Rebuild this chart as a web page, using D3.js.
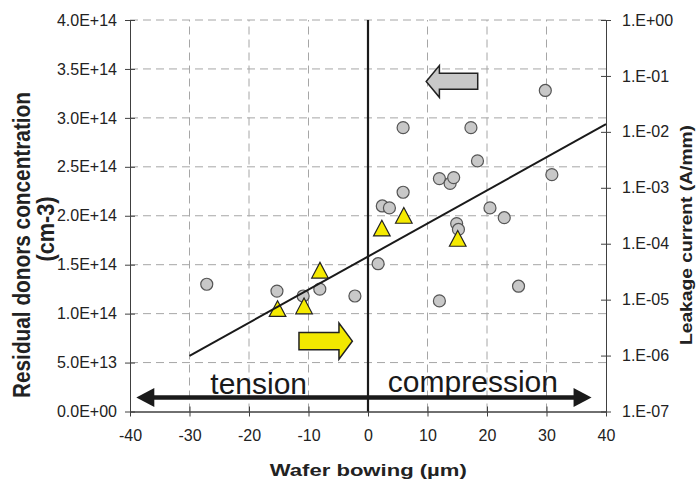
<!DOCTYPE html>
<html><head><meta charset="utf-8">
<script src="https://cdn.jsdelivr.net/npm/d3@7"></script>
<style>body{margin:0;background:#fff}svg{display:block;font-family:"Liberation Sans",Arial,sans-serif}</style>
</head><body>
<svg id="c" width="696" height="488"></svg>
<script>
// ---- data ----
const circleBowing = [-27.1,-15.3,-10.9,-8.1,-2.2,1.7,5.9,5.9,2.4,3.6,12.0,13.8,14.4,17.3,18.4,29.8,30.9,20.5,22.9,14.9,15.2,12.0,25.3];
const circleDonors = [1.30,1.23,1.18,1.25,1.18,1.51,2.90,2.24,2.10,2.08,2.38,2.33,2.39,2.90,2.56,3.28,2.42,2.08,1.98,1.92,1.86,1.13,1.28]; // x1E14
const triBowing = [-15.2,-10.75,-8.07,2.33,6.02,15.08];
const triDonors = [1.05,1.077,1.442,1.873,2.002,1.767]; // x1E14
const fitBowing = [-30, 40];
const fitDonors = [0.569, 2.935]; // x1E14
const xTicks = [-40,-30,-20,-10,0,10,20,30,40];
const yTicks = [0,0.5,1.0,1.5,2.0,2.5,3.0,3.5,4.0]; // x1E14
const yTickLabels = ["0.0E+00","5.0E+13","1.0E+14","1.5E+14","2.0E+14","2.5E+14","3.0E+14","3.5E+14","4.0E+14"];
const rTicks = [1e-7,1e-6,1e-5,1e-4,1e-3,1e-2,1e-1,1];
const rTickLabels = ["1.E-07","1.E-06","1.E-05","1.E-04","1.E-03","1.E-02","1.E-01","1.E+00"];

const svg = d3.select("#c");
const x = d3.scaleLinear().domain([-40,40]).range([130,606]);
const y = d3.scaleLinear().domain([0,4]).range([411.5,20]);
const yR = d3.scaleLog().domain([1e-7,1]).range([411.5,20]);

// grid
const grid = svg.append("g").attr("stroke","#a6a6a6").attr("stroke-width",1).attr("stroke-dasharray","8,5");
grid.selectAll("line.h").data(yTicks.filter(d=>d>0)).join("line")
  .attr("x1",x(-40)).attr("x2",x(40)).attr("y1",d=>y(d)).attr("y2",d=>y(d));
grid.selectAll("line.v").data(xTicks.filter(d=>d>-40&&d<40)).join("line")
  .attr("y1",y(0)).attr("y2",y(4)).attr("x1",d=>x(d)).attr("x2",d=>x(d));

function styleAxis(g){
  g.select(".domain").attr("stroke","#404040");
  g.selectAll(".tick line").attr("stroke","#404040");
  g.selectAll("text").attr("fill","#222").style("font-size","16px").style("font-family","'Liberation Sans',Arial,sans-serif");
}
// left axis
const gl = svg.append("g").attr("transform",`translate(${x(-40)},0)`)
  .call(d3.axisLeft(y).tickValues(yTicks).tickFormat((d,i)=>yTickLabels[i]).tickSize(5).tickSizeOuter(0).tickPadding(8));
styleAxis(gl);
svg.append("g").attr("transform",`translate(${x(-40)},0)`)
  .call(d3.axisLeft(y).tickValues(yTicks).tickFormat("").tickSize(-5).tickSizeOuter(0)).call(styleAxis);
// bottom axis
const gb = svg.append("g").attr("transform",`translate(0,${y(0)})`)
  .call(d3.axisBottom(x).tickValues(xTicks).tickFormat(d=>d).tickSize(5).tickSizeOuter(0).tickPadding(13));
styleAxis(gb);
svg.append("g").attr("transform",`translate(0,${y(0)})`)
  .call(d3.axisBottom(x).tickValues(xTicks).tickFormat("").tickSize(-5).tickSizeOuter(0)).call(styleAxis);
// right axis
const gr = svg.append("g").attr("transform",`translate(${x(40)},0)`)
  .call(d3.axisRight(yR).tickValues(rTicks).tickFormat((d,i)=>rTickLabels[i]).tickSize(5).tickSizeOuter(0).tickPadding(11));
styleAxis(gr);
svg.append("g").attr("transform",`translate(${x(40)},0)`)
  .call(d3.axisRight(yR).tickValues(rTicks).tickFormat("").tickSize(-5).tickSizeOuter(0)).call(styleAxis);

// zero line
svg.append("line").attr("x1",x(0)).attr("x2",x(0)).attr("y1",y(4)).attr("y2",y(0))
  .attr("stroke","#1a1a1a").attr("stroke-width",2.2);

// tension/compression arrow
const ay = y(0.143), ax1 = x(-38.94), ax2 = x(37.57);
svg.append("line").attr("x1",ax1+15).attr("x2",ax2-15).attr("y1",ay).attr("y2",ay)
  .attr("stroke","#1a1a1a").attr("stroke-width",4.5);
svg.append("path").attr("d",`M${ax1},${ay}L${ax1+18},${ay-9.5}L${ax1+18},${ay+9.5}Z`).attr("fill","#1a1a1a");
svg.append("path").attr("d",`M${ax2},${ay}L${ax2-18},${ay-9.5}L${ax2-18},${ay+9.5}Z`).attr("fill","#1a1a1a");
svg.append("text").attr("x",x(-26.5)).attr("y",y(0.181)).text("tension")
  .attr("fill","#1a1a1a").style("font-size","30px");
svg.append("text").attr("x",x(3.34)).attr("y",y(0.204)).text("compression")
  .attr("fill","#1a1a1a").style("font-size","30px");

// block arrows
function blockArrow(tip, tail, headBase, outerTop, outerBot, shaftTop, shaftBot){
  const X=[tip,headBase,tail].map(x), Yo=[outerTop,outerBot].map(y), Ys=[shaftTop,shaftBot].map(y);
  const mid=(Yo[0]+Yo[1])/2;
  return `M${X[0]},${mid}L${X[1]},${Yo[0]}L${X[1]},${Ys[0]}L${X[2]},${Ys[0]}L${X[2]},${Ys[1]}L${X[1]},${Ys[1]}L${X[1]},${Yo[1]}Z`;
}
svg.append("path").attr("d",blockArrow(9.78,18.44,12.0,3.535,3.21,3.457,3.293))
  .attr("fill","#c8c8c8").attr("stroke","#222").attr("stroke-width",1.5).attr("stroke-linejoin","miter");
svg.append("path").attr("d",blockArrow(-2.63,-11.6,-4.88,0.903,0.535,0.807,0.630))
  .attr("fill","#f2e800").attr("stroke","#222").attr("stroke-width",1.5).attr("stroke-linejoin","miter");

// points
svg.append("g").selectAll("circle").data(circleBowing).join("circle")
  .attr("cx",d=>x(d)).attr("cy",(d,i)=>y(circleDonors[i])).attr("r",6)
  .attr("fill","#c8c8c8").attr("stroke","#555").attr("stroke-width",1.2);
svg.append("g").selectAll("path").data(triBowing).join("path")
  .attr("d",(d,i)=>{const cx=x(d),cy=y(triDonors[i]);return `M${cx},${cy-8}L${cx+8.3},${cy+7.7}L${cx-8.3},${cy+7.7}Z`;})
  .attr("fill","#f5ea00").attr("stroke","#222").attr("stroke-width",1.2);

// fit line
svg.append("line").attr("x1",x(fitBowing[0])).attr("y1",y(fitDonors[0]))
  .attr("x2",x(fitBowing[1])).attr("y2",y(fitDonors[1]))
  .attr("stroke","#1a1a1a").attr("stroke-width",2);

// titles
svg.append("text").attr("x",368.3).attr("y",476).attr("text-anchor","middle")
  .attr("textLength",197).attr("lengthAdjust","spacingAndGlyphs")
  .style("font-size","16px").style("font-weight","bold").attr("fill","#222").text("Wafer bowing  (µm)");
svg.append("text").attr("transform","translate(29.5,245) rotate(-90)").attr("text-anchor","middle")
  .attr("textLength",306).attr("lengthAdjust","spacingAndGlyphs")
  .style("font-size","24px").style("font-weight","bold").attr("fill","#222").text("Residual  donors concentration");
svg.append("text").attr("transform","translate(54,229) rotate(-90)").attr("text-anchor","middle")
  .attr("textLength",65).attr("lengthAdjust","spacingAndGlyphs")
  .style("font-size","24px").style("font-weight","bold").attr("fill","#222").text("(cm-3)");
svg.append("text").attr("transform","translate(691.5,235) rotate(-90)").attr("text-anchor","middle")
  .attr("textLength",220).attr("lengthAdjust","spacingAndGlyphs")
  .style("font-size","17px").style("font-weight","bold").attr("fill","#222").text("Leakage current  (A/mm)");
</script>
</body></html>
